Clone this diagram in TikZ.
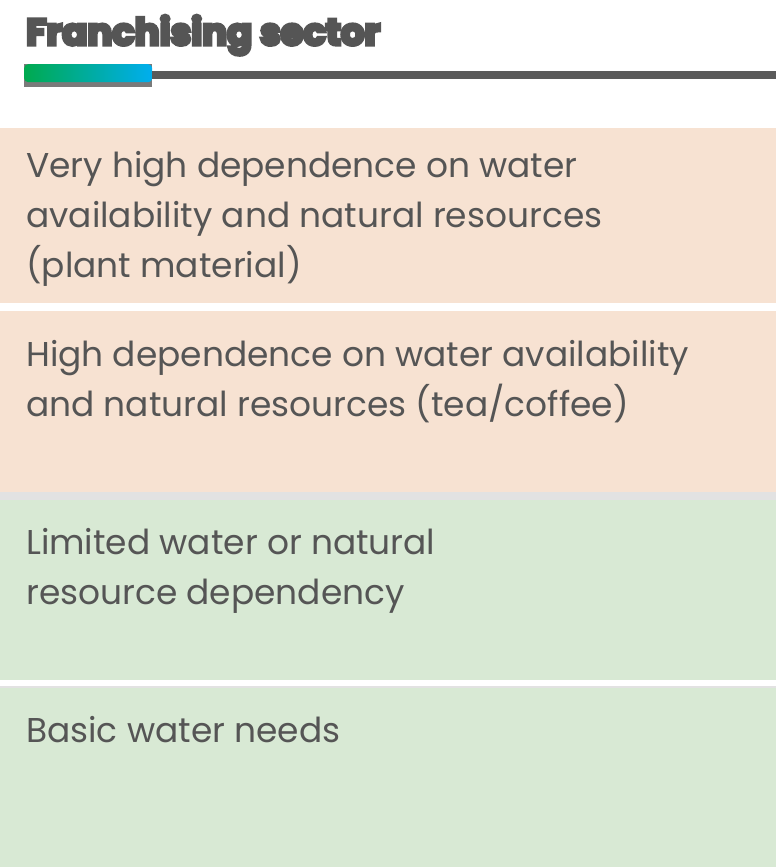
\documentclass[tikz,border=0pt]{standalone}
\usepackage{fontspec}
\setmainfont{Poppins}
\newfontfamily\headfont[FakeBold=9]{Poppins Bold}
\usetikzlibrary{positioning}
\definecolor{txtgray}{HTML}{555555}
\definecolor{linegray}{HTML}{5A5A5A}
\definecolor{peach}{HTML}{F7E2D2}
\definecolor{sage}{HTML}{D8E9D4}
\definecolor{sepgray}{HTML}{E2E2E2}
\definecolor{barshadow}{HTML}{7A7A7A}
\definecolor{bargreen}{HTML}{00AA4F}
\definecolor{barblue}{HTML}{00AEEF}
\tikzset{
  band/.style={draw=none, minimum width=776pt, inner sep=0pt, anchor=north west},
  label/.style={text=txtgray, anchor=north west, inner sep=0pt, align=left,
    font=\fontsize{34.4}{50}\selectfont,
    execute at begin node={\rule{0pt}{30pt}}},
}
\begin{document}
\begin{tikzpicture}[x=1pt, y=-1pt]
  \useasboundingbox[fill=white] (0,0) rectangle (776,867);

  % HEADER
  \node[anchor=base west, inner sep=0pt, text=txtgray,
    font=\fontsize{37}{40}\headfont] (title) at (26,45) {Franchising sector};
  \node[fill=barshadow, minimum width=128pt, minimum height=23pt, inner sep=0pt,
    anchor=north west] (shadow) at (24,64) {};
  \node[rounded corners=4pt, left color=bargreen, right color=barblue,
    minimum width=128pt, minimum height=18pt, inner sep=0pt,
    anchor=north west] (bar) at (24,64) {};
  \coordinate (lineend) at (776,75);
  \draw[linegray, line width=7pt] (bar.east |- lineend) -- (lineend);

  % BANDS
  \node[band, fill=peach, minimum height=175pt] (veryhigh) at (0,128) {};
  \node[band, fill=peach, minimum height=181pt] (high) at (0,311) {};
  \node[band, fill=sepgray, minimum height=8pt] (sep) at (0,492) {};
  \node[band, fill=sage, minimum height=180pt] (limited) at (0,500) {};
  \node[band, fill=sepgray, minimum height=2pt] (sepline) at (0,686) {};
  \node[band, fill=sage, minimum height=179pt] (basic) at (0,688) {};

  % TEXTS
  \node[label] (tveryhigh) at (26,151) {Very high dependence on water\\availability and natural resources\\(plant material)};
  \node[label] (thigh) at (26,340) {High dependence on water availability\\and natural resources (tea/coffee)};
  \node[label] (tlimited) at (26,528) {Limited water or natural\\resource dependency};
  \node[label] (tbasic) at (26,712) {Basic water needs};

\end{tikzpicture}
\end{document}
